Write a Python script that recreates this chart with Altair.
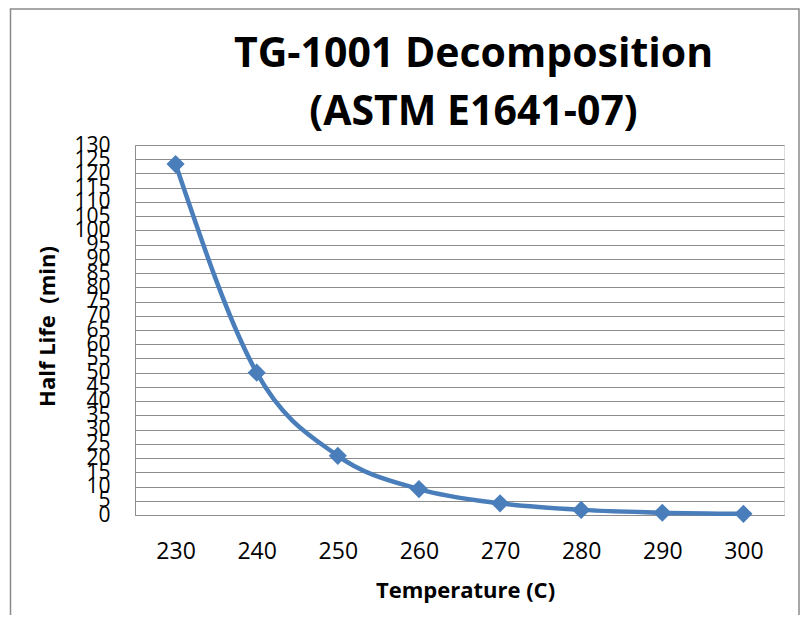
import altair as alt
import pandas as pd

temperatures = [230, 240, 250, 260, 270, 280, 290, 300]
half_life = [123.3, 50.0, 20.8, 9.1, 4.1, 1.8, 0.8, 0.4]
y_ticks = list(range(0, 131, 5))

df = pd.DataFrame({"Temperature": [str(t) for t in temperatures], "HalfLife": half_life})

FONT = "Open Sans"
BLUE = "#4A7EBB"
GRID = "#8C8C8C"

x_enc = alt.X(
    "Temperature:O",
    sort=None,
    scale=alt.Scale(type="point", padding=0.5),
    axis=alt.Axis(
        title="Temperature (C)",
        labelAngle=0,
        ticks=False,
        domain=True,
        domainColor=GRID,
        labelFont=FONT,
        labelFontSize=23,
        labelColor="#000000",
        labelPadding=25,
        titleFont=FONT,
        titleFontSize=22,
        titleFontWeight="bold",
        titleColor="#000000",
        titleX=330,
        titleY=75,
        titleBaseline="middle",
        grid=False,
    ),
)

y_enc = alt.Y(
    "HalfLife:Q",
    scale=alt.Scale(domain=[0, 130], nice=False),
    axis=alt.Axis(
        title="Half Life \u00a0(min)",
        values=y_ticks,
        ticks=False,
        labelOverlap=False,
        labelFlush=False,
        labelFont=FONT,
        labelFontSize=21,
        labelColor="#000000",
        labelPadding=25,
        domain=True,
        domainColor=GRID,
        grid=True,
        gridColor=GRID,
        gridWidth=1.2,
        titleFont=FONT,
        titleFontSize=22,
        titleFontWeight="bold",
        titleColor="#000000",
        titleAngle=270,
        titleX=-88,
        titleY=181,
        titleBaseline="middle",
        titleAlign="center",
    ),
)

frame = alt.Chart(pd.DataFrame({"a": [0]})).mark_rect(
    fill=None, stroke="#8A8A8A", strokeWidth=1.5
).encode(
    x=alt.value(-124.5), x2=alt.value(664), y=alt.value(-136), y2=alt.value(520)
)

line = alt.Chart(df).mark_line(
    color=BLUE, strokeWidth=4.5, interpolate="monotone"
).encode(x=x_enc, y=y_enc)

points = alt.Chart(df).mark_point(
    shape="diamond", filled=True, color=BLUE, size=330, opacity=1
).encode(x=x_enc, y=y_enc)

chart = alt.layer(frame, line, points).properties(
    width=649,
    height=370,
    title=alt.TitleParams(
        text=["TG-1001 Decomposition", "(ASTM E1641-07)"],
        font=FONT,
        fontSize=41,
        fontWeight="bold",
        color="#000000",
        anchor="middle",
        frame="group",
        lineHeight=58,
        dx=14,
        dy=136,
        offset=10,
    ),
    autosize=alt.AutoSizeParams(type="none"),
    padding={"left": 127, "top": 137, "right": 17, "bottom": 100},
).configure_view(stroke=None).configure(background="white")

chart.save("out.html", embed_options={"renderer": "svg", "actions": False})
